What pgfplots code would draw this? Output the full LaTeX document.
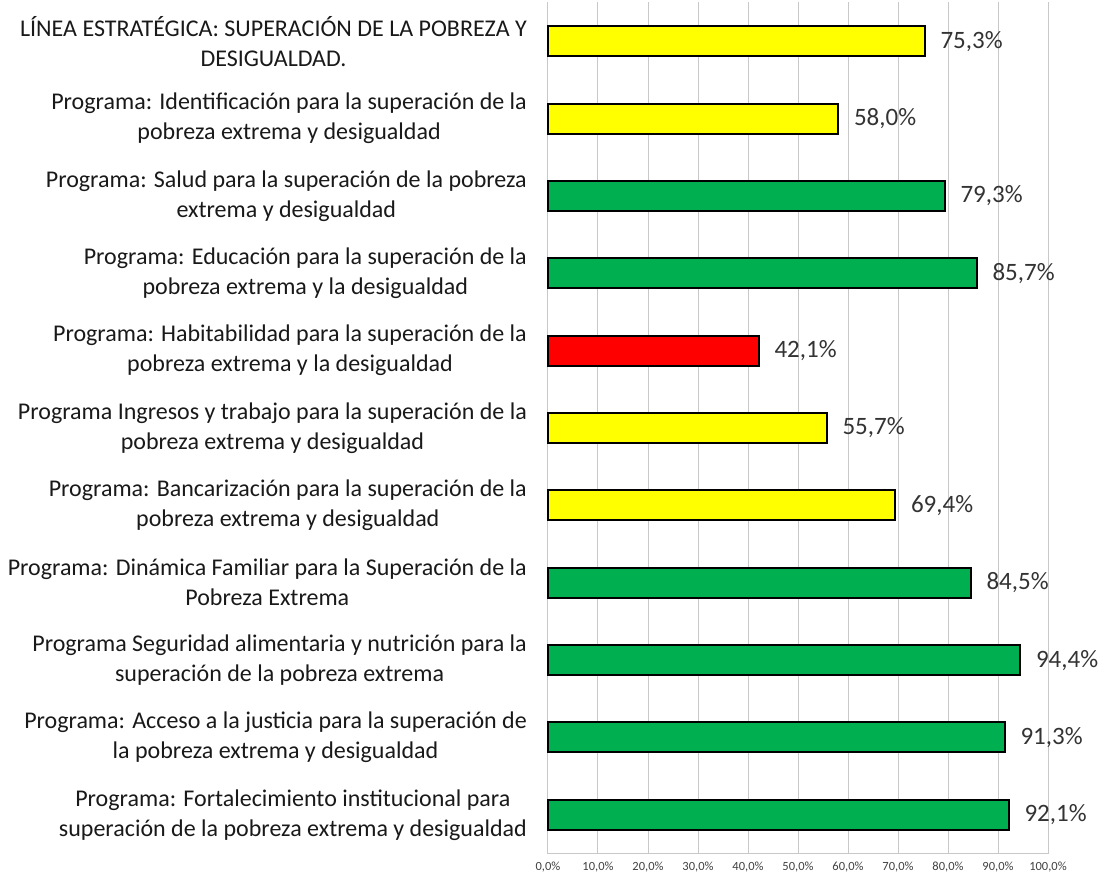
\documentclass[border=0pt]{standalone}
\usepackage{pgfplots}
\pgfplotsset{compat=1.18}
\usepackage{fontspec}
\setmainfont{Carlito}
\definecolor{cyel}{HTML}{FFFF00}
\definecolor{cgrn}{HTML}{00B050}
\definecolor{cred}{HTML}{FF0000}
\definecolor{cgrid}{HTML}{C8C8C8}
\begin{document}
\begin{tikzpicture}[x=1pt,y=1pt]
\useasboundingbox (0,0) rectangle (1098,880);
\begin{axis}[
  at={(548pt,26.5pt)}, anchor=south west,
  scale only axis, width=500pt, height=851pt,
  xmin=0, xmax=100, ymin=-0.5, ymax=10.5, y dir=reverse,
  xbar, bar width=30pt, bar shift=0pt,
  axis x line*=bottom, axis y line*=left,
  axis line style={cgrid, line width=1pt},
  xmajorgrids, grid style={cgrid, line width=1pt},
  major tick length=0pt,
  xtick={0,10,...,100},
  xticklabel={\pgfmathprintnumber[fixed,fixed zerofill,precision=1,use comma]{\tick}\%},
  /pgf/number format/assume math mode=true,
  xticklabel style={font=\fontsize{12.5}{14}\selectfont, text=black!75, yshift=-5pt},
  ytick={0,...,10},
  yticklabels={
    {LÍNEA ESTRATÉGICA: SUPERACIÓN DE LA POBREZA Y\\DESIGUALDAD.},
    {Programa: Identificación para la superación de la\\pobreza extrema y desigualdad},
    {Programa: Salud para la superación de la pobreza\\extrema y desigualdad},
    {Programa: Educación para la superación de la\\pobreza extrema y la desigualdad},
    {Programa: Habitabilidad para la superación de la\\pobreza extrema y la desigualdad},
    {Programa Ingresos y trabajo para la superación de la\\pobreza extrema y desigualdad},
    {Programa: Bancarización para la superación de la\\pobreza extrema y desigualdad},
    {Programa: Dinámica Familiar para la Superación de la\\Pobreza Extrema},
    {Programa Seguridad alimentaria y nutrición para la\\superación de la pobreza extrema},
    {Programa: Acceso a la justicia para la superación de\\la pobreza extrema y desigualdad},
    {Programa: Fortalecimiento institucional para\\superación de la pobreza extrema y desigualdad}},
  yticklabel style={align=center, font=\fontsize{24}{30}\selectfont, text=black!90, inner sep=0pt, xshift=-21pt},
  point meta=x,
  nodes near coords={\pgfmathprintnumber[fixed,fixed zerofill,precision=1,use comma]{\pgfplotspointmeta}\%},
  nodes near coords style={anchor=west, font=\fontsize{25}{28}\selectfont, text=black!80, inner sep=0pt, xshift=15pt},
  clip=false,
]
\addplot[fill=cyel, draw=black, line width=2pt] coordinates {(75.3,0) (58.0,1) (55.7,5) (69.4,6)};
\addplot[fill=cgrn, draw=black, line width=2pt] coordinates {(79.3,2) (85.7,3) (84.5,7) (94.4,8) (91.3,9) (92.1,10)};
\addplot[fill=cred, draw=black, line width=2pt] coordinates {(42.1,4)};
\end{axis}
\end{tikzpicture}
\end{document}
